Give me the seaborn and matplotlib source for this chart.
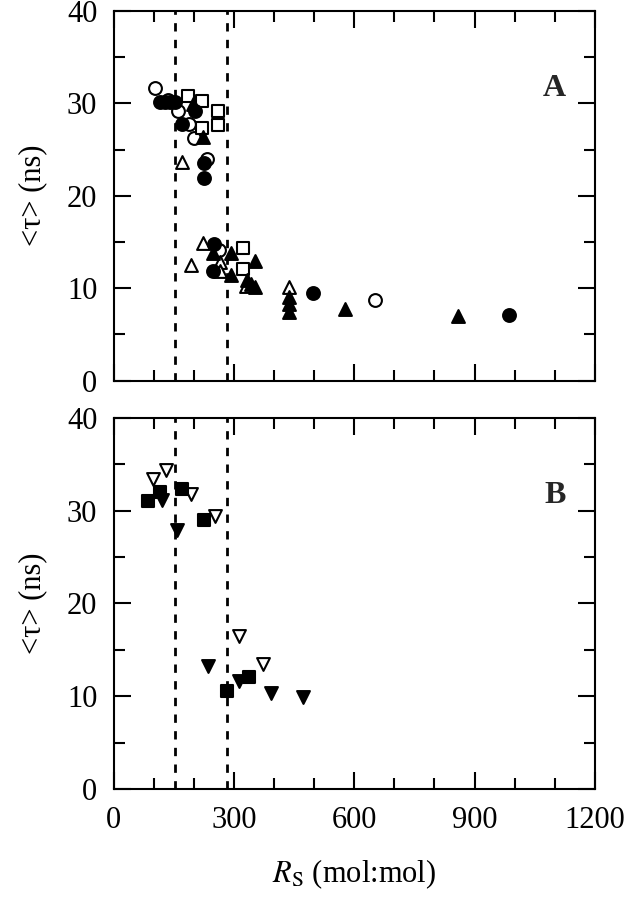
import numpy as np
import matplotlib
matplotlib.use('Agg')
import matplotlib.pyplot as plt
import seaborn as sns
from matplotlib.ticker import MultipleLocator

# panel A series (R_S, <tau>)
a_fcirc_x = [115, 128, 140, 152, 202, 169, 225, 225, 251, 248, 497, 987]
a_fcirc_y = [30.1, 30.1, 30.1, 30.1, 29.2, 27.8, 23.5, 21.9, 14.8, 11.9, 9.5, 7.1]
a_ocirc_x = [102, 136, 161, 188, 200, 232, 263, 652]
a_ocirc_y = [31.6, 30.4, 29.2, 27.8, 26.2, 24.0, 14.1, 8.7]
a_osq_x = [186, 219, 261, 219, 261, 322, 322]
a_osq_y = [30.8, 30.3, 29.2, 27.3, 27.6, 14.4, 12.1]
a_ftri_x = [198, 223, 248, 293, 351, 293, 332, 343, 351, 436, 436, 436, 576, 858]
a_ftri_y = [29.9, 26.4, 13.8, 13.8, 12.9, 11.4, 10.9, 10.5, 10.1, 9.0, 8.3, 7.4, 7.8, 7.0]
a_otri_x = [169, 222, 192, 265, 265, 330, 438]
a_otri_y = [23.6, 14.9, 12.5, 12.8, 11.9, 10.2, 10.1]

# panel B series
b_fsq_x = [86, 115, 169, 225, 338, 282]
b_fsq_y = [31.0, 32.0, 32.3, 29.0, 12.1, 10.6]
b_fdtri_x = [119, 158, 236, 313, 392, 472]
b_fdtri_y = [31.1, 27.9, 13.3, 11.7, 10.4, 9.9]
b_odtri_x = [98, 130, 192, 252, 313, 373]
b_odtri_y = [33.4, 34.4, 31.8, 29.4, 16.5, 13.5]

dashed_x = [152, 283]

sns.set_theme(style='ticks')
plt.rcParams['font.family'] = ['Liberation Serif', 'DejaVu Serif']
plt.rcParams['mathtext.fontset'] = 'stix'

fig = plt.figure(figsize=(6.26, 9.0), dpi=100)
axA = fig.add_axes([0.182, 0.577, 0.768, 0.411])
axB = fig.add_axes([0.182, 0.123, 0.768, 0.413])

def pts(ax, x, y, marker, filled, s=85):
    sns.scatterplot(x=x, y=y, ax=ax, marker=marker, s=s,
                    color='black' if filled else 'white',
                    edgecolor='black', linewidth=1.5, zorder=3)

for ax in (axA, axB):
    for xv in dashed_x:
        ax.axvline(xv, color='black', lw=2, ls=(0, (3, 3)), zorder=1)

pts(axA, a_ocirc_x, a_ocirc_y, 'o', False)
pts(axA, a_osq_x, a_osq_y, 's', False, 75)
pts(axA, a_otri_x, a_otri_y, '^', False)
pts(axA, a_fcirc_x, a_fcirc_y, 'o', True)
pts(axA, a_ftri_x, a_ftri_y, '^', True)

pts(axB, b_odtri_x, b_odtri_y, 'v', False)
pts(axB, b_fsq_x, b_fsq_y, 's', True, 75)
pts(axB, b_fdtri_x, b_fdtri_y, 'v', True)

for ax, lab in ((axA, 'A'), (axB, 'B')):
    ax.set_xlim(0, 1200)
    ax.set_ylim(0, 40)
    ax.xaxis.set_major_locator(MultipleLocator(300))
    ax.xaxis.set_minor_locator(MultipleLocator(100))
    ax.yaxis.set_major_locator(MultipleLocator(10))
    ax.yaxis.set_minor_locator(MultipleLocator(5))
    ax.tick_params(which='both', direction='in', top=True, right=True,
                   width=1.5, labelsize=22, colors='black', pad=12)
    ax.tick_params(which='major', length=12)
    ax.tick_params(which='minor', length=8)
    for sp in ax.spines.values():
        sp.set_linewidth(1.5)
        sp.set_color('black')
    ax.set_ylabel('<τ> (ns)', fontsize=22, color='black', labelpad=14)
    ax.text(0.917, 0.79, lab, transform=ax.transAxes, fontsize=23,
            fontweight='bold', ha='center', va='center')

axA.set_xticklabels([])
axA.set_xlabel('')
axB.set_xlabel(r'$R_\mathrm{S}$ (mol:mol)', fontsize=22, color='black', labelpad=16)

fig.savefig('out.png', dpi=100)
